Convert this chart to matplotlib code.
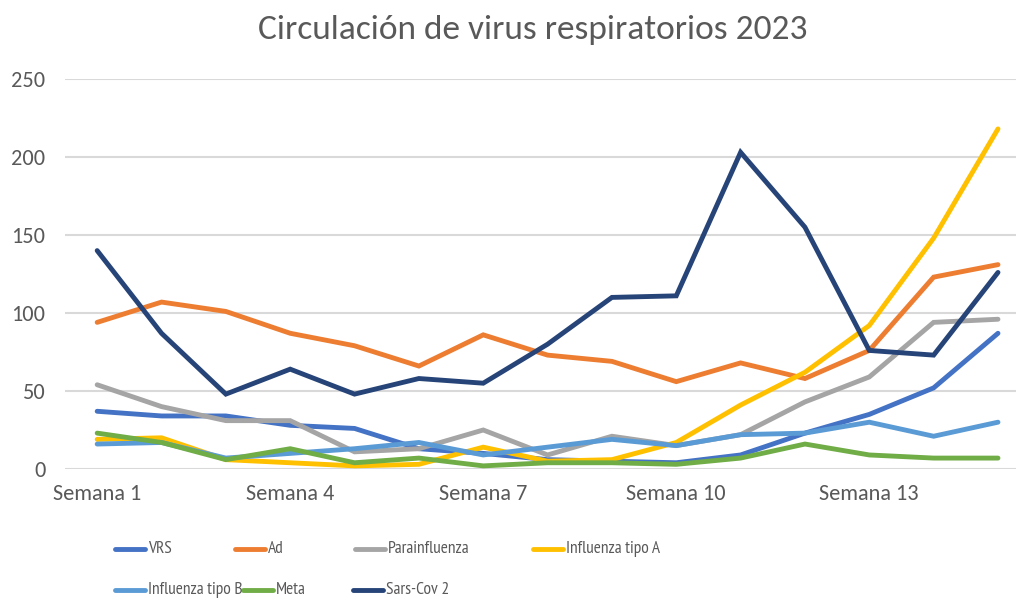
import matplotlib.pyplot as plt
from matplotlib.lines import Line2D

# datos
semanas = ['Semana %d' % i for i in range(1, 16)]
vrs = [37, 34, 34, 28, 26, 13, 10, 6, 5, 4, 9, 23, 35, 52, 87]
ad = [94, 107, 101, 87, 79, 66, 86, 73, 69, 56, 68, 58, 76, 123, 131]
parainfluenza = [54, 40, 31, 31, 11, 13, 25, 9, 21, 15, 22, 43, 59, 94, 96]
influenza_a = [19, 20, 6, 4, 2, 3, 14, 5, 6, 17, 41, 62, 92, 148, 218]
influenza_b = [16, 17, 7, 10, 13, 17, 9, 14, 19, 15, 22, 23, 30, 21, 30]
meta = [23, 17, 6, 13, 4, 7, 2, 4, 4, 3, 7, 16, 9, 7, 7]
sars_cov2 = [140, 87, 48, 64, 48, 58, 55, 80, 110, 111, 203, 155, 76, 73, 126]

series = [
    ('VRS', vrs, '#4472C4'),
    ('Ad', ad, '#ED7D31'),
    ('Parainfluenza', parainfluenza, '#A5A5A5'),
    ('Influenza tipo A', influenza_a, '#FFC000'),
    ('Influenza tipo B', influenza_b, '#5B9BD5'),
    ('Meta', meta, '#70AD47'),
    ('Sars-Cov 2', sars_cov2, '#264478'),
]

plt.rcParams['font.family'] = ['Carlito', 'DejaVu Sans']
gris = '#595959'

fig = plt.figure(figsize=(10.16, 6.01), dpi=100)
ax = fig.add_axes([65 / 1016, 132 / 601, 951 / 1016, 390 / 601])

x = list(range(len(semanas)))
for nombre, valores, color in series:
    ax.plot(x, valores, color=color, lw=3.5, solid_capstyle='round',
            solid_joinstyle='miter', label=nombre)

ax.set_ylim(0, 250)
ax.set_xlim(-0.5, 14.28)
ax.set_yticks(range(0, 251, 50))
ax.set_xticks(x[::3])
ax.set_xticklabels(semanas[::3])
ax.grid(axis='y', color='#D9D9D9', lw=1.5)
ax.set_axisbelow(True)
for s in ax.spines.values():
    s.set_visible(False)
ax.tick_params(length=0, colors=gris, labelsize=16)
ax.tick_params(axis='y', pad=14)
ax.tick_params(axis='x', pad=11)

fig.text(533 / 1016, 1 - 30 / 601, 'Circulación de virus respiratorios 2023',
         ha='center', va='center', fontsize=25.5, color=gris)

# leyenda a mano (como en Excel), letra angosta
pos = [(115, 549), (235, 549), (355, 549), (533, 549),
       (115, 590), (243, 590), (353, 590)]
for (nombre, valores, color), (px, py) in zip(series, pos):
    fy = 1 - py / 601
    fig.add_artist(Line2D([px / 1016, (px + 30) / 1016], [fy, fy],
                          color=color, lw=3.5, solid_capstyle='round'))
    fig.text((px + 33) / 1016, fy, nombre, ha='left', va='center',
             fontsize=12.5, color=gris, family=['PT Sans Narrow', 'DejaVu Sans'])

fig.savefig('out.png', dpi=100)
